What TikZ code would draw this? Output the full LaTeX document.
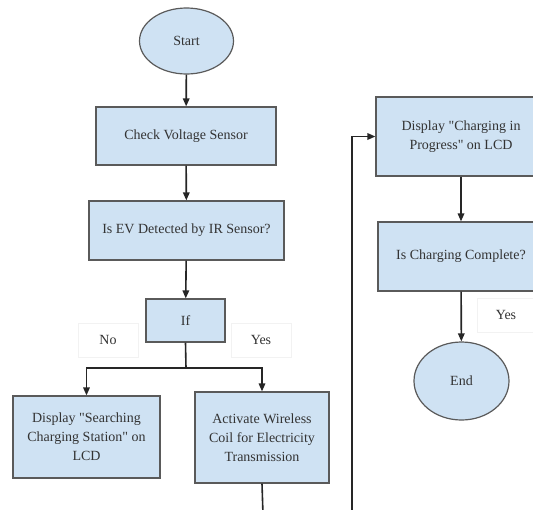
\documentclass[tikz,border=0pt]{standalone}
\usepackage{fontspec}
\setmainfont{Liberation Serif}[Ligatures=TeXOff]
\usetikzlibrary{arrows.meta,shapes.geometric}
\definecolor{boxblue}{HTML}{CFE2F3}
\definecolor{boxline}{HTML}{5A5A5A}
\definecolor{txtgray}{HTML}{333333}
\tikzset{
  procbox/.style={draw=boxline, fill=boxblue, line width=1.2pt, align=center,
    text=txtgray, font=\fontsize{14}{19}\selectfont, inner sep=2pt},
  termnode/.style={procbox, ellipse},
  lblbox/.style={draw=black!5, fill=white, text=txtgray,
    font=\fontsize{14}{19}\selectfont, minimum width=60pt, minimum height=34pt},
  flow/.style={-{Triangle[length=8pt,width=6.5pt]}, line width=1.6pt, black!85}
}
\begin{document}
\begin{tikzpicture}[x=1pt,y=-1pt]
\useasboundingbox (0,0) rectangle (533,509);
\clip (0,0) rectangle (533,509);
\fill[white] (0,0) rectangle (533,509);
% left column
\node[termnode, minimum width=94pt, minimum height=66pt] (start) at (186.5,41) {Start};
\node[procbox, minimum width=180pt, minimum height=58pt] (check) at (186,136) {Check Voltage Sensor};
\node[procbox, minimum width=195pt, minimum height=59pt] (detect) at (186.5,230.5) {Is EV Detected by IR Sensor?};
\node[procbox, minimum width=79pt, minimum height=43pt] (ifbox) at (185.5,320.5) {If};
% branch labels
\node[lblbox] (nolbl) at (108,340) {No};
\node[lblbox] (yeslbl) at (261,340) {Yes};
% branches
\node[procbox, minimum width=147pt, minimum height=82pt] (search) at (86.5,437) {Display "Searching\\Charging Station" on\\LCD};
\node[procbox, minimum width=134pt, minimum height=91pt] (activate) at (262,437.5) {Activate Wireless\\Coil for Electricity\\Transmission};
% right column
\node[procbox, minimum width=170pt, minimum height=79pt] (progress) at (461,136.5) {Display "Charging in\\Progress" on LCD};
\node[procbox, minimum width=166pt, minimum height=69pt] (complete) at (461,256.5) {Is Charging Complete?};
\node[lblbox, minimum width=58pt] (donelbl) at (506,315) {Yes};
\node[termnode, minimum width=95pt, minimum height=78pt] (finish) at (461.5,381) {End};
% connectors
\coordinate (split) at (186,368);
\coordinate (actout) at (263,515);
\coordinate (loopup) at (352,515);
\draw[flow] (start) -- (check);
\draw[flow] (check) -- (detect);
\draw[flow] (detect) -- (ifbox);
\draw[line width=1.6pt, black!85] (ifbox.south) -- (split);
\draw[flow] (split) -| (search.north);
\draw[flow] (split) -| (activate.north);
\draw[line width=1.6pt, black!85] (activate.south) -- (actout);
\draw[flow] (loopup) |- (progress.west);
\draw[flow] (progress) -- (complete);
\draw[flow] (complete) -- (finish);
\end{tikzpicture}
\end{document}
